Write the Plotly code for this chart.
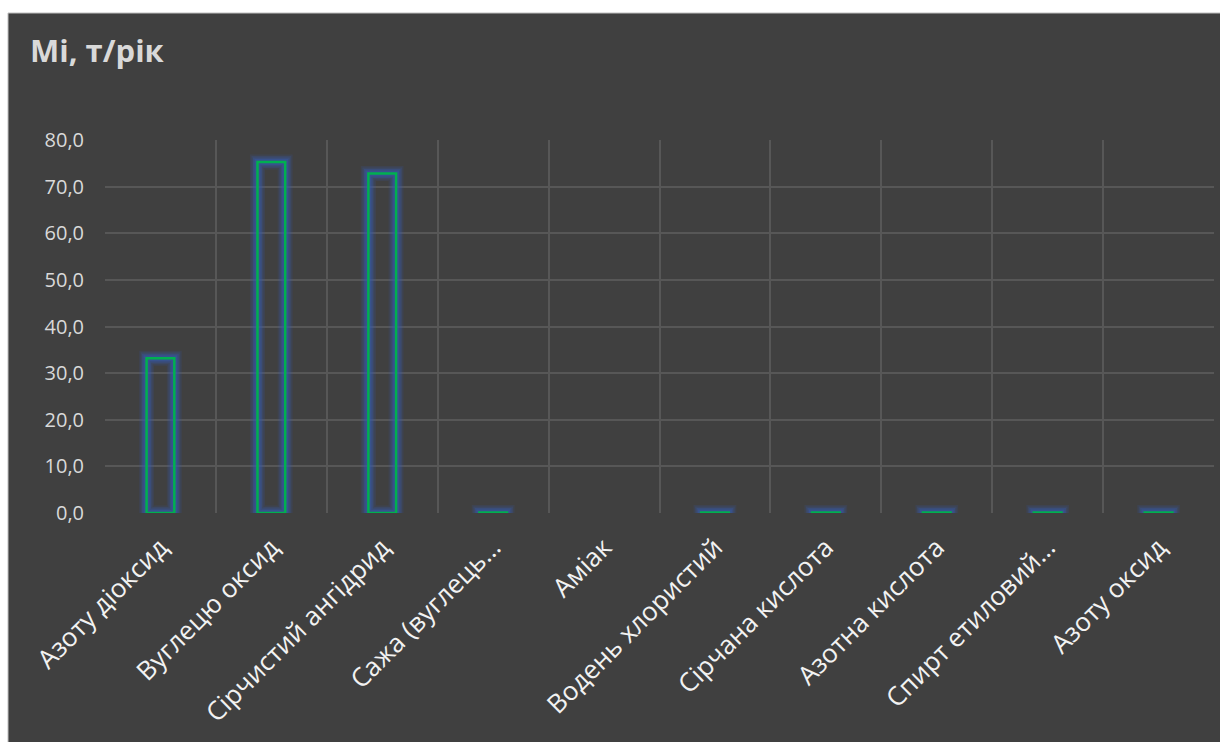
import plotly.graph_objects as go

categories = ["Азоту діоксид", "Вуглецю оксид", "Сірчистий ангідрид", "Сажа (вуглець…",
              "Аміак", "Водень хлористий", "Сірчана кислота", "Азотна кислота",
              "Спирт етиловий…", "Азоту оксид"]
values = [33.2, 75.3, 72.8, 0.1, None, 0.1, 0.1, 0.1, 0.1, 0.1]
y_ticks = [0, 10, 20, 30, 40, 50, 60, 70, 80]
title_text = "Mi, т/рік"

W, H = 1220, 742
L, R, T, B = 105, 6, 140, 229
pw, ph = W - L - R, H - T - B

fig = go.Figure()
# glow layers
for lw, a in [(15, 0.16), (12, 0.22), (9, 0.32), (6, 0.42)]:
    fig.add_trace(go.Bar(x=categories, y=values, width=0.25,
                         marker=dict(color="rgba(0,0,0,0)",
                                     line=dict(color=f"rgba(55,90,170,{a})", width=lw)),
                         hoverinfo="skip", showlegend=False))
fig.add_trace(go.Bar(x=categories, y=values, width=0.25,
                     marker=dict(color="rgba(0,0,0,0)",
                                 line=dict(color="#00b050", width=2.5)),
                     showlegend=False))

fig.update_layout(
    width=W, height=H,
    barmode="overlay",
    separators=", ",
    paper_bgcolor="white",
    plot_bgcolor="#404040",
    margin=dict(l=L, r=R, t=T, b=B, autoexpand=False),
    font=dict(family="Open Sans, Noto Sans, sans-serif", color="#d9d9d9"),
    shapes=[dict(type="rect", xref="paper", yref="paper", layer="below",
                 x0=(8 - L) / pw, x1=(W - L + 2) / pw,
                 y0=-(B + 2) / ph, y1=1 + (T - 13) / ph,
                 fillcolor="#404040", line=dict(color="#bfbfbf", width=1))],
    annotations=[dict(text="<b>" + title_text + "</b>", xref="paper", yref="paper",
                      x=(28 - L) / pw, y=1 + (T - 50) / ph, xanchor="left", yanchor="middle",
                      showarrow=False, font=dict(size=31, color="#d9d9d9"))],
    xaxis=dict(type="category", tickson="boundaries", showgrid=True,
               gridcolor="#575757", gridwidth=1.5, tickangle=-45,
               tickfont=dict(size=26, color="#f2f2f2"), ticks="", showline=False,
               zeroline=False, range=[-0.5, 9.5], ticklabelstandoff=13),
    yaxis=dict(range=[0, 80], tickvals=y_ticks, tickformat=".1f", showgrid=True,
               gridcolor="#575757", gridwidth=1.5, zeroline=False,
               tickfont=dict(size=20, color="#d9d9d9"), ticks="", ticklen=0,
               ticklabelstandoff=20),
)

fig.write_html("out.html")
